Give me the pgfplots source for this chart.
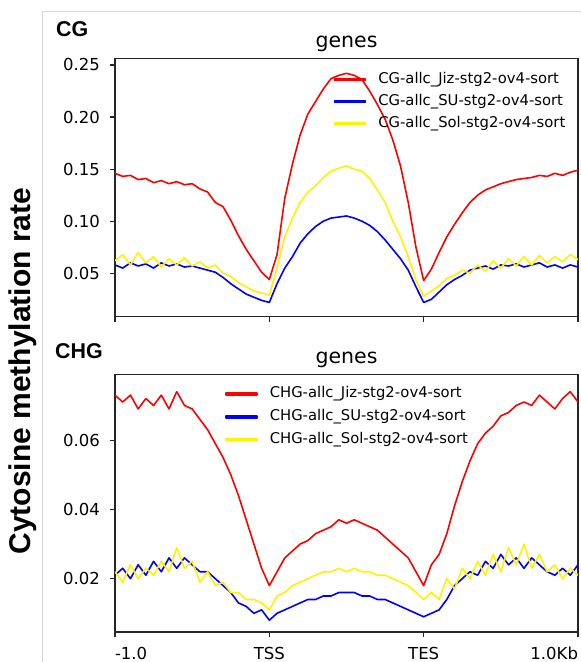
\documentclass[border=0pt]{standalone}
\usepackage{fontspec}
\setmainfont{DejaVu Sans}
\newfontfamily\lib{Liberation Sans}
\usepackage{pgfplots}
\usepackage{pgfplotstable}
\pgfplotsset{compat=1.18}

\pgfplotstableread{
u r b y
0.00 0.146 0.058 0.062
0.05 0.143 0.055 0.068
0.10 0.144 0.060 0.058
0.15 0.140 0.057 0.070
0.20 0.141 0.059 0.060
0.25 0.137 0.055 0.066
0.30 0.139 0.060 0.056
0.35 0.136 0.057 0.064
0.40 0.138 0.059 0.058
0.45 0.135 0.056 0.065
0.50 0.136 0.057 0.057
0.55 0.131 0.055 0.061
0.60 0.128 0.053 0.055
0.65 0.118 0.051 0.058
0.70 0.114 0.046 0.050
0.75 0.101 0.040 0.047
0.80 0.086 0.035 0.041
0.85 0.073 0.030 0.037
0.90 0.062 0.027 0.033
0.95 0.051 0.024 0.031
1.00 0.044 0.022 0.029
1.05 0.068 0.040 0.055
1.10 0.122 0.055 0.085
1.15 0.155 0.066 0.103
1.20 0.183 0.079 0.118
1.25 0.203 0.088 0.128
1.30 0.215 0.095 0.134
1.35 0.227 0.100 0.142
1.40 0.237 0.103 0.148
1.45 0.240 0.104 0.151
1.50 0.242 0.105 0.153
1.55 0.240 0.103 0.150
1.60 0.236 0.100 0.148
1.65 0.225 0.096 0.141
1.70 0.212 0.090 0.130
1.75 0.198 0.082 0.118
1.80 0.178 0.073 0.100
1.85 0.153 0.064 0.085
1.90 0.118 0.053 0.066
1.95 0.075 0.037 0.043
2.00 0.043 0.022 0.028
2.05 0.054 0.025 0.033
2.10 0.070 0.032 0.038
2.15 0.085 0.039 0.045
2.20 0.097 0.044 0.048
2.25 0.108 0.048 0.053
2.30 0.118 0.053 0.050
2.35 0.125 0.055 0.058
2.40 0.130 0.057 0.052
2.45 0.133 0.054 0.062
2.50 0.136 0.058 0.055
2.55 0.138 0.057 0.064
2.60 0.140 0.059 0.057
2.65 0.141 0.056 0.066
2.70 0.142 0.058 0.058
2.75 0.144 0.060 0.067
2.80 0.143 0.056 0.060
2.85 0.146 0.058 0.066
2.90 0.144 0.055 0.061
2.95 0.147 0.058 0.068
3.00 0.149 0.056 0.063
}\cgdata

\pgfplotstableread{
u r b y
0.00 0.073 0.021 0.022
0.05 0.071 0.023 0.019
0.10 0.073 0.020 0.024
0.15 0.069 0.024 0.020
0.20 0.072 0.021 0.023
0.25 0.070 0.025 0.021
0.30 0.073 0.022 0.025
0.35 0.069 0.026 0.022
0.40 0.074 0.023 0.029
0.45 0.070 0.026 0.023
0.50 0.069 0.024 0.025
0.55 0.066 0.022 0.019
0.60 0.063 0.022 0.022
0.65 0.059 0.020 0.018
0.70 0.055 0.018 0.019
0.75 0.050 0.016 0.016
0.80 0.044 0.013 0.016
0.85 0.037 0.012 0.014
0.90 0.030 0.010 0.014
0.95 0.023 0.011 0.013
1.00 0.018 0.008 0.011
1.05 0.022 0.010 0.015
1.10 0.026 0.011 0.016
1.15 0.028 0.012 0.018
1.20 0.030 0.013 0.019
1.25 0.031 0.014 0.020
1.30 0.033 0.014 0.021
1.35 0.034 0.015 0.022
1.40 0.035 0.015 0.022
1.45 0.037 0.016 0.023
1.50 0.036 0.016 0.022
1.55 0.037 0.016 0.023
1.60 0.036 0.015 0.022
1.65 0.035 0.015 0.022
1.70 0.034 0.014 0.021
1.75 0.032 0.014 0.021
1.80 0.030 0.013 0.020
1.85 0.028 0.012 0.019
1.90 0.026 0.011 0.018
1.95 0.022 0.010 0.016
2.00 0.018 0.009 0.014
2.05 0.024 0.010 0.016
2.10 0.027 0.011 0.014
2.15 0.033 0.014 0.020
2.20 0.041 0.018 0.017
2.25 0.048 0.020 0.023
2.30 0.054 0.022 0.020
2.35 0.059 0.021 0.025
2.40 0.062 0.025 0.021
2.45 0.064 0.023 0.027
2.50 0.067 0.027 0.022
2.55 0.068 0.024 0.029
2.60 0.070 0.026 0.024
2.65 0.071 0.023 0.030
2.70 0.070 0.026 0.023
2.75 0.073 0.024 0.027
2.80 0.071 0.022 0.022
2.85 0.069 0.021 0.024
2.90 0.072 0.023 0.020
2.95 0.074 0.021 0.023
3.00 0.071 0.024 0.021
}\chgdata

\pgfplotsset{
  panel/.style={
    scale only axis, width=463pt,
    xmin=0, xmax=3,
    axis line style={black!85, line width=1.1pt},
    tick style={black!85, line width=1.1pt},
    tick align=outside, major tick length=5pt,
    xtick pos=left, ytick pos=left,
    xtick={0,1,2,3},
    scaled y ticks=false,
    ticklabel style={font=\fontsize{16.5pt}{18pt}\selectfont},
    /pgf/number format/assume math mode=true,
    yticklabel style={/pgf/number format/fixed, /pgf/number format/fixed zerofill, /pgf/number format/precision=2, inner sep=0pt, xshift=-10pt},
    xticklabel style={inner sep=0pt, text height=12pt, text depth=0pt, yshift=-10pt},
    title=genes,
    title style={font=\fontsize{20.5pt}{22pt}\selectfont, at={(0.5,1)}, anchor=base, yshift=5pt},
    legend cell align=left,
    legend style={draw=none, fill=none, inner sep=0pt, anchor=north west,
      font=\fontsize{14.8pt}{16pt}\selectfont,
      nodes={inner sep=0pt, text height=11pt, text depth=3.5pt},
      column sep=12pt},
    legend image code/.code={\fill[#1] (0pt,-1pt) rectangle (31pt,1pt);},
    every axis plot/.append style={line width=1.6pt, line join=round},
  }
}

\begin{document}
\begin{tikzpicture}
\draw[black!15, line width=0.8pt] (42pt,-662pt) -- (42pt,-11pt) -- (581pt,-11pt);

\begin{axis}[panel, at={(115pt,-58.5pt)}, anchor=north west, height=258.2pt,
  ymin=0.0083, ymax=0.2562, ytick={0.05,0.10,0.15,0.20,0.25},
  xticklabels={},
  legend style={at={(0.4719,0.9475)}, row sep=7.5pt}]
\addplot[color=red] table[x=u, y=r] {\cgdata};
\addlegendentry{CG-allc\_Jiz-stg2-ov4-sort}
\addplot[color=blue] table[x=u, y=b] {\cgdata};
\addlegendentry{CG-allc\_SU-stg2-ov4-sort}
\addplot[color=yellow] table[x=u, y=y] {\cgdata};
\addlegendentry{CG-allc\_Sol-stg2-ov4-sort}
\end{axis}

\begin{axis}[panel, at={(115pt,-374.3pt)}, anchor=north west, height=257.7pt,
  ymin=0.0046, ymax=0.079, ytick={0.02,0.04,0.06},
  xticklabels={\makebox[0pt][l]{-1.0}, TSS, TES, \makebox[0pt][r]{1.0Kb}},
  legend style={at={(0.2376,0.9517)}, row sep=8.2pt}]
\addplot[color=red] table[x=u, y=r] {\chgdata};
\addlegendentry{CHG-allc\_Jiz-stg2-ov4-sort}
\addplot[color=blue] table[x=u, y=b] {\chgdata};
\addlegendentry{CHG-allc\_SU-stg2-ov4-sort}
\addplot[color=yellow] table[x=u, y=y] {\chgdata};
\addlegendentry{CHG-allc\_Sol-stg2-ov4-sort}
\end{axis}

\node[font=\lib\bfseries\fontsize{21.4pt}{24pt}\selectfont, anchor=base west, inner sep=0pt] at (56pt,-36pt) {CG};
\node[font=\lib\bfseries\fontsize{21.4pt}{24pt}\selectfont, anchor=base west, inner sep=0pt] at (55pt,-358pt) {CHG};
\node[font=\lib\bfseries\fontsize{30pt}{34pt}\selectfont, rotate=90, inner sep=0pt] at (23pt,-371pt) {Cytosine methylation rate};

\pgfresetboundingbox
\path[use as bounding box] (0pt,0pt) rectangle (581pt,-662pt);
\end{tikzpicture}
\end{document}
